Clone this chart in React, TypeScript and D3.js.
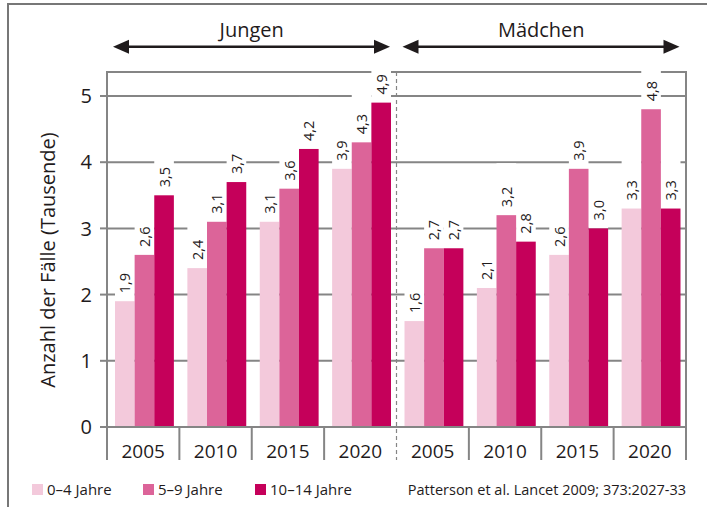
import { useEffect, useRef } from "react";
import * as d3 from "d3";

const groups = ["Jungen", "Mädchen"];
const years = ["2005", "2010", "2015", "2020"];
const series = ["0–4 Jahre", "5–9 Jahre", "10–14 Jahre"];
const jungen04 = [1.9, 2.4, 3.1, 3.9];
const jungen59 = [2.6, 3.1, 3.6, 4.3];
const jungen1014 = [3.5, 3.7, 4.2, 4.9];
const maedchen04 = [1.6, 2.1, 2.6, 3.3];
const maedchen59 = [2.7, 3.2, 3.9, 4.8];
const maedchen1014 = [2.7, 2.8, 3.0, 3.3];
const yTicks = [0, 1, 2, 3, 4, 5];
const source = "Patterson et al. Lancet 2009; 373:2027-33";
const yTitle = "Anzahl der Fälle (Tausende)";

const colors = ["#f3c9db", "#dc6499", "#c5005a"];
const gray = "#858585";
const ink = "#1f1b1c";
const font = "'Open Sans', sans-serif";

const App = () => {
    const chartRef = useRef<SVGSVGElement | null>(null);

    useEffect(() => {
        const W = 707, H = 507;
        const left = 107, right = 686, top = 72, bottom = 427, axisBottom = 460;

        const svg = d3.select(chartRef.current)
            .attr("width", W)
            .attr("height", H);
        svg.selectAll("*").remove();

        const values: Record<string, number[][]> = {
            "Jungen": [jungen04, jungen59, jungen1014],
            "Mädchen": [maedchen04, maedchen59, maedchen1014],
        };

        const xGroup = d3.scaleBand().domain(groups).range([left, right]);
        const xYear = d3.scaleBand().domain(years).range([0, xGroup.bandwidth()]);
        const xSeries = d3.scaleBand().domain(series).range([8, xYear.bandwidth() - 5.5]);
        const y = d3.scaleLinear().domain([0, 5]).range([bottom, 96]);

        const fmt = (v: number) => d3.format(".1f")(v).replace(".", ",");

        // outer frame
        svg.append("rect")
            .attr("x", 8).attr("y", 4)
            .attr("width", 760).attr("height", 560)
            .attr("fill", "white")
            .attr("stroke", "#777")
            .attr("stroke-width", 2);

        // gridlines
        svg.selectAll(".grid")
            .data(yTicks.filter(d => d > 0))
            .enter()
            .append("line")
            .attr("x1", left).attr("x2", right)
            .attr("y1", d => y(d)).attr("y2", d => y(d))
            .attr("stroke", gray)
            .attr("stroke-width", 2);

        // top frame line
        svg.append("line")
            .attr("x1", left - 1).attr("x2", right + 1)
            .attr("y1", top).attr("y2", top)
            .attr("stroke", gray).attr("stroke-width", 2);

        const bars: { group: string; year: string; s: string; v: number; x: number }[] = [];
        groups.forEach(g => {
            years.forEach((yr, i) => {
                series.forEach((s, k) => {
                    bars.push({ group: g, year: yr, s, v: values[g][k][i], x: xGroup(g)! + xYear(yr)! + xSeries(s)! });
                });
            });
        });

        // white label backgrounds
        svg.selectAll(".labelbg")
            .data(bars)
            .enter()
            .append("rect")
            .attr("x", d => d.x)
            .attr("width", xSeries.bandwidth())
            .attr("y", d => Math.max(60, y(d.v) - 52))
            .attr("height", d => y(d.v) - Math.max(60, y(d.v) - 52))
            .attr("fill", "white");

        svg.selectAll(".bar")
            .data(bars)
            .enter()
            .append("rect")
            .attr("x", d => d.x)
            .attr("width", xSeries.bandwidth())
            .attr("y", d => y(d.v))
            .attr("height", d => bottom - y(d.v))
            .attr("fill", d => colors[series.indexOf(d.s)]);

        svg.selectAll(".vlabel")
            .data(bars)
            .enter()
            .append("text")
            .attr("transform", d => `translate(${d.x + xSeries.bandwidth() / 2 + 5.5},${y(d.v) - 8}) rotate(-90)`)
            .attr("text-anchor", "start")
            .style("font-family", font)
            .style("font-size", "14.5px")
            .attr("fill", ink)
            .text(d => fmt(d.v));

        // axes frame
        svg.append("line")
            .attr("x1", left - 7).attr("x2", right + 1)
            .attr("y1", bottom).attr("y2", bottom)
            .attr("stroke", gray).attr("stroke-width", 2);

        svg.append("line")
            .attr("x1", left).attr("x2", left)
            .attr("y1", top).attr("y2", axisBottom)
            .attr("stroke", gray).attr("stroke-width", 2);

        svg.append("line")
            .attr("x1", right).attr("x2", right)
            .attr("y1", top).attr("y2", axisBottom)
            .attr("stroke", gray).attr("stroke-width", 2);

        // y ticks
        svg.selectAll(".ytick")
            .data(yTicks)
            .enter()
            .append("line")
            .attr("x1", left - 7).attr("x2", left)
            .attr("y1", d => y(d)).attr("y2", d => y(d))
            .attr("stroke", gray).attr("stroke-width", 2);

        svg.selectAll(".ylabel")
            .data(yTicks)
            .enter()
            .append("text")
            .attr("x", 92)
            .attr("y", d => y(d))
            .attr("dy", "0.36em")
            .attr("text-anchor", "end")
            .style("font-family", font)
            .style("font-size", "20px")
            .attr("fill", ink)
            .text(d => d);

        // year separators and labels
        groups.forEach((g, gi) => {
            years.forEach((yr, i) => {
                const x0 = xGroup(g)! + xYear(yr)!;
                if (i > 0) {
                    svg.append("line")
                        .attr("x1", x0).attr("x2", x0)
                        .attr("y1", bottom).attr("y2", axisBottom)
                        .attr("stroke", gray).attr("stroke-width", 2);
                }
                svg.append("text")
                    .attr("x", x0 + xYear.bandwidth() / 2)
                    .attr("y", 458)
                    .attr("text-anchor", "middle")
                    .style("font-family", font)
                    .style("font-size", "19px")
                    .attr("fill", ink)
                    .text(yr);
            });
            if (gi > 0) {
                svg.append("line")
                    .attr("x1", xGroup(g)!).attr("x2", xGroup(g)!)
                    .attr("y1", top).attr("y2", axisBottom)
                    .attr("stroke", gray).attr("stroke-width", 1.2)
                    .attr("stroke-dasharray", "4,3");
            }

            // arrows
            const a0 = xGroup(g)! + 6, a1 = xGroup(g)! + xGroup.bandwidth() - 6.5;
            const ay = 46.7, al = 16, ah = 7;
            svg.append("line")
                .attr("x1", a0 + al - 2).attr("x2", a1 - al + 2)
                .attr("y1", ay).attr("y2", ay)
                .attr("stroke", ink).attr("stroke-width", 2.4);
            svg.append("path")
                .attr("d", `M${a0},${ay}L${a0 + al},${ay - ah}L${a0 + al},${ay + ah}Z`)
                .attr("fill", ink);
            svg.append("path")
                .attr("d", `M${a1},${ay}L${a1 - al},${ay - ah}L${a1 - al},${ay + ah}Z`)
                .attr("fill", ink);
            svg.append("text")
                .attr("x", xGroup(g)! + xGroup.bandwidth() / 2)
                .attr("y", 37)
                .attr("text-anchor", "middle")
                .style("font-family", font)
                .style("font-size", "20px")
                .attr("fill", ink)
                .text(g);
        });

        // y title
        svg.append("text")
            .attr("transform", "translate(55,260) rotate(-90)")
            .attr("text-anchor", "middle")
            .style("font-family", font)
            .style("font-size", "20px")
            .attr("fill", ink)
            .text(yTitle);

        // legend
        const legendX = [32, 143, 255];
        series.forEach((s, i) => {
            svg.append("rect")
                .attr("x", legendX[i]).attr("y", 484)
                .attr("width", 11).attr("height", 11)
                .attr("fill", colors[i]);
            svg.append("text")
                .attr("x", legendX[i] + 15)
                .attr("y", 495)
                .style("font-family", font)
                .style("font-size", "15px")
                .attr("fill", ink)
                .text(s);
        });

        svg.append("text")
            .attr("x", right)
            .attr("y", 495)
            .attr("text-anchor", "end")
            .style("font-family", font)
            .style("font-size", "14.5px")
            .attr("fill", ink)
            .text(source);

        return () => {
            d3.select(chartRef.current).selectAll("*").remove();
        };
    }, []);

    return (
        <svg
            ref={chartRef}
            style={{ position: "absolute", left: 0, top: 0, background: "white", display: "block" }}
        ></svg>
    );
};

export default App;
